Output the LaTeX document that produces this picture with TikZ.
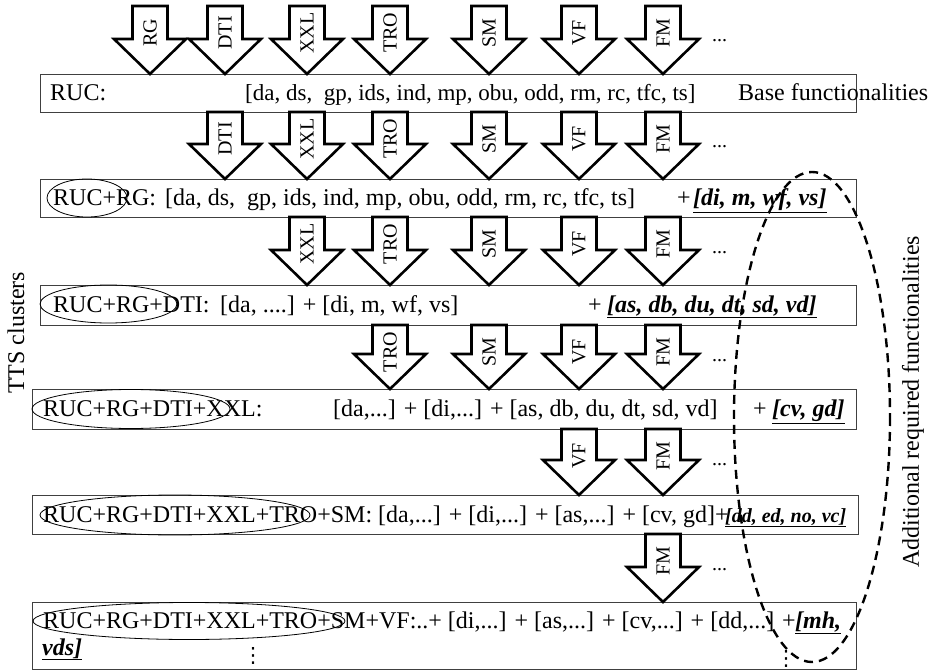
\documentclass[tikz,border=0pt]{standalone}
\usepackage{fontspec}
\setmainfont{Liberation Serif}
\newfontfamily\djv{DejaVu Sans}
\newcommand\bu[1]{\underline{\textbf{\textit{#1}}}}
\newcommand\blkarrow[4]{%
  \draw[arrowline] (#1-17.5,#2) -- (#1+17.5,#2) -- (#1+17.5,#3-35) -- (#1+36,#3-35) -- (#1,#3) -- (#1-36,#3-35) -- (#1-17.5,#3-35) -- cycle;
  \node[arrlabel] at (#1,#2+27) {#4};
  \ifnum#1=663 \node[dotsl] at (712,#2+36) {...};\fi
}
\tikzset{
  arrowline/.style={draw=black, fill=white, line width=2.6pt, line join=miter},
  arrlabel/.style={rotate=90, inner sep=0pt, font=\fontsize{20}{22}\selectfont},
  dotsl/.style={anchor=base west, inner sep=0pt, font=\fontsize{20}{22}\selectfont},
  box/.style={draw=black!75, line width=0.9pt},
  txt/.style={anchor=base west, inner sep=0pt, font=\fontsize{24}{28}\selectfont},
  stxt/.style={anchor=base west, inner sep=0pt, font=\fontsize{23}{27}\selectfont},
  btxt/.style={anchor=base west, inner sep=0pt, font=\fontsize{20}{23}\selectfont},
  vdot/.style={inner sep=0pt, font=\djv\fontsize{21}{24}\selectfont},
  cell/.style={draw=black, line width=0.8pt},
  bigell/.style={draw=black, line width=2.4pt, dash pattern=on 9pt off 6pt},
  side/.style={rotate=90, inner sep=0pt, font=\fontsize{24}{28}\selectfont}
}
\begin{document}
\begin{tikzpicture}[x=1pt,y=-1pt]
\useasboundingbox (0,0) rectangle (937,671);
% boxes
\draw[box] (40,74) rectangle (856,112);
\draw[box] (40,179) rectangle (856,217);
\draw[box] (40,285) rectangle (856,325);
\draw[box] (32,389) rectangle (856,429);
\draw[box] (32,495) rectangle (858,534);
\draw[box] (32,602) rectangle (856,669);
% arrows
\foreach \x/\l in {150/RG,225/DTI,307/XXL,390/TRO,489/SM,579/VF,663/FM}{\blkarrow{\x}{6}{74}{\l}}
\foreach \x/\l in {225/DTI,307/XXL,390/TRO,489/SM,579/VF,663/FM}{\blkarrow{\x}{112}{179}{\l}}
\foreach \x/\l in {307/XXL,390/TRO,489/SM,579/VF,663/FM}{\blkarrow{\x}{217}{285}{\l}}
\foreach \x/\l in {390/TRO,489/SM,579/VF,663/FM}{\blkarrow{\x}{325}{389}{\l}}
\foreach \x/\l in {579/VF,663/FM}{\blkarrow{\x}{429}{495}{\l}}
\foreach \x/\l in {663/FM}{\blkarrow{\x}{534}{602}{\l}}
% box 1
\node[txt] (t1a) at (50,100.5) {RUC:};
\node[stxt] (t1b) at (245,100.5) {[da, ds,\ \ gp, ids, ind, mp, obu, odd, rm, rc, tfc, ts]};
\node[txt] (t1c) at (738,100.5) {Base functionalities};
% box 2
\node[txt] (t2a) at (53,205.5) {RUC+RG:};
\node[txt] (t2b) at (165,205.5) {[da, ds,\ \ gp, ids, ind, mp, obu, odd, rm, rc, tfc, ts]};
\node[txt] (t2c) at (677,205.5) {+};
\node[txt] (t2d) at (693,205.5) {\bu{[di, m, wf, vs]}};
% box 3
\node[txt] (t3a) at (53,312.5) {RUC+RG+DTI:};
\node[txt] (t3b) at (220,312.5) {[da, ....] + [di, m, wf, vs]};
\node[txt] (t3c) at (588,312.5) {+};
\node[txt] (t3d) at (607,312.5) {\bu{[as, db, du, dt, sd, vd]}};
% box 4
\node[txt] (t4a) at (43,416.5) {RUC+RG+DTI+XXL:};
\node[txt] (t4b) at (333,416.5) {[da,...] + [di,...] + [as, db, du, dt, sd, vd]};
\node[txt] (t4c) at (753,416.5) {+};
\node[txt] (t4d) at (772,416.5) {\bu{[cv, gd]}};
% box 5
\node[txt] (t5a) at (43,522) {RUC+RG+DTI+XXL+TRO+SM: [da,...] + [di,...] + [as,...] + [cv, gd]+};
\node[btxt] (t5b) at (725,522) {\bu{[dd, ed, no, vc]}};
% box 6
\node[txt] (t6a) at (43,628) {RUC+RG+DTI+XXL+TRO+SM+VF:..+ [di,...] + [as,...] + [cv,...] + [dd,...]};
\node[txt] (t6b) at (782,628) {+};
\node[txt] (t6c) at (795,628) {\bu{[mh,}};
\node[txt] (t6d) at (42,655) {\bu{vds]}};
\node[vdot] (t6e) at (253,656) {⋮};
\node[vdot] (t6f) at (786,659) {⋮};
% small ellipses
\draw[cell] (87,198) ellipse [x radius=40, y radius=19];
\draw[cell] (108.5,304) ellipse [x radius=68.5, y radius=19];
\draw[cell] (131,409) ellipse [x radius=99, y radius=19.5];
\draw[cell] (175,515) ellipse [x radius=135, y radius=20];
\draw[cell] (189,621) ellipse [x radius=156, y radius=18.5];
% side labels
\node[side] (tts) at (16,333) {TTS clusters};
\node[side] (arf) at (913,402) {Additional required functionalities};
% big dashed ellipse
\draw[bigell] (812,417) ellipse [x radius=78, y radius=245];
\end{tikzpicture}
\end{document}
